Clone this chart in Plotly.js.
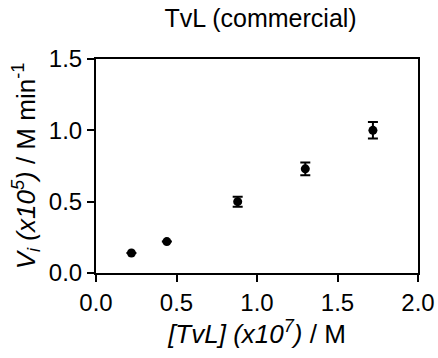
<!DOCTYPE html>
<html>
<head>
<meta charset="utf-8">
<script src="https://cdn.plot.ly/plotly-3.0.1.min.js"></script>
<style>html,body{margin:0;padding:0;background:#fff;}#chart{width:438px;height:358px;}</style>
</head>
<body>
<div id="chart"></div>
<script>
// TvL concentration (x10^7 M) and initial rate (x10^5 M/min)
const tvlConc = [0.22, 0.44, 0.88, 1.30, 1.72];
const rateVi = [0.14, 0.22, 0.50, 0.73, 1.00];
// SD; the two lowest points have error bars hidden behind the marker
const rateErr = [null, null, 0.035, 0.045, 0.058];

const font = 'Liberation Sans, Arial, sans-serif';

const trace = {
  x: tvlConc,
  y: rateVi,
  type: 'scatter',
  mode: 'markers',
  marker: {color: '#000', size: 9},
  error_y: {type: 'data', array: rateErr, visible: true, color: '#000', thickness: 2, width: 5},
  cliponaxis: false,
  showlegend: false
};

const layout = {
  width: 438,
  height: 358,
  margin: {l: 96, r: 20, t: 59, b: 85},
  paper_bgcolor: '#fff',
  plot_bgcolor: '#fff',
  font: {family: font, color: '#000'},
  title: {text: 'TvL (commercial)', font: {size: 25, family: font, color: '#000'}, x: 0.595, xanchor: 'center', y: 0.95, yanchor: 'middle'},
  xaxis: {
    range: [0, 2.0], tickvals: [0, 0.5, 1.0, 1.5, 2.0], ticktext: ['0.0', '0.5', '1.0', '1.5', '2.0'],
    showgrid: false, zeroline: false, showline: true, mirror: true, linecolor: '#000', linewidth: 2,
    ticks: 'outside', ticklen: 7, tickwidth: 2, tickcolor: '#000',
    tickfont: {size: 24, family: font},
    title: {text: '<i>[TvL] (x10<sup>7</sup>)</i> / M', font: {size: 26, family: font}, standoff: 8}
  },
  yaxis: {
    range: [0, 1.5], tickvals: [0, 0.5, 1.0, 1.5], ticktext: ['0.0', '0.5', '1.0', '1.5'],
    showgrid: false, zeroline: false, showline: true, mirror: true, linecolor: '#000', linewidth: 2,
    ticks: 'outside', ticklen: 7, tickwidth: 2, tickcolor: '#000',
    tickfont: {size: 24, family: font},
    title: {text: '<i>V<sub>i</sub> (x10<sup>5</sup>)</i> / M min<sup>-1</sup>', font: {size: 26, family: font}, standoff: 6}
  }
};

Plotly.newPlot('chart', [trace], layout, {displayModeBar: false, staticPlot: true});
</script>
</body>
</html>
